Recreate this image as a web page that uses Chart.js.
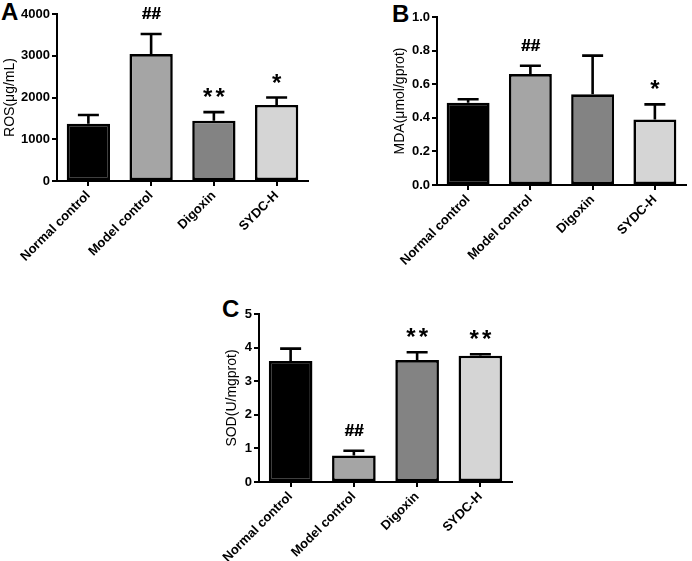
<!DOCTYPE html>
<html>
<head>
<meta charset="utf-8">
<script src="https://cdn.jsdelivr.net/npm/chart.js@4.4.1/dist/chart.umd.min.js"></script>
<style>
  body { margin: 0; background: #fff; width: 692px; height: 561px; position: relative; overflow: hidden; font-family: "Liberation Sans", Arial, sans-serif; }
  canvas { position: absolute; }
  .tag { position: absolute; font-weight: bold; font-size: 24px; line-height: 1; color: #000; }
</style>
</head>
<body>
<div class="tag" style="left:1px;top:0px">A</div>
<div class="tag" style="left:392px;top:2px">B</div>
<div class="tag" style="left:222px;top:297px">C</div>
<canvas id="chartA" width="340" height="290" style="left:0;top:0"></canvas>
<canvas id="chartB" width="352" height="290" style="left:340px;top:0"></canvas>
<canvas id="chartC" width="340" height="271" style="left:200px;top:290px"></canvas>
<script>
const groups = ["Normal control", "Model control", "Digoxin", "SYDC-H"];
const barColors = ["#000000", "#a5a5a5", "#838383", "#d5d5d5"];

// ROS
const rosMean = [1370, 3040, 1445, 1820];
const rosErr = [210, 480, 205, 180];
const rosMarks = ["", "##", "**", "*"];

// MDA
const mdaMean = [0.49, 0.66, 0.54, 0.39];
const mdaErr = [0.02, 0.05, 0.23, 0.09];
const mdaMarks = ["", "##", "", "*"];

// SOD
const sodMean = [3.6, 0.79, 3.63, 3.76];
const sodErr = [0.37, 0.14, 0.23, 0.04];
const sodMarks = ["", "##", "**", "**"];

const FONT = '"Liberation Sans", Arial, sans-serif';

// upper error bars plus the significance marks above them
function errorBars(means, errs, marks) {
  return {
    id: 'errorBars',
    afterDatasetsDraw(chart) {
      const ctx = chart.ctx;
      const y = chart.scales.y;
      const meta = chart.getDatasetMeta(0);
      ctx.save();
      ctx.strokeStyle = '#000';
      ctx.fillStyle = '#000';
      ctx.lineWidth = 2.6;
      meta.data.forEach((bar, i) => {
        const base = y.getPixelForValue(means[i]);
        const top = y.getPixelForValue(means[i] + errs[i]);
        ctx.beginPath();
        ctx.moveTo(bar.x, base);
        ctx.lineTo(bar.x, top);
        ctx.moveTo(bar.x - 10.5, top);
        ctx.lineTo(bar.x + 10.5, top);
        ctx.stroke();
        const m = marks[i];
        if (!m) return;
        const star = m[0] === '*';
        ctx.font = (star ? 'bold 24px ' : 'bold 17px ') + FONT;
        ctx.letterSpacing = star ? '3px' : '0px';
        ctx.textAlign = 'center';
        ctx.textBaseline = 'alphabetic';
        const mt = ctx.measureText(m);
        const dx = star ? 1.5 : 0;
        ctx.fillText(m, bar.x + dx, top - 15 - mt.actualBoundingBoxDescent);
        if (!star) {
          // a touch heavier, like the original
          ctx.fillText(m, bar.x + dx + 0.5, top - 15 - mt.actualBoundingBoxDescent);
        }
      });
      ctx.restore();
    }
  };
}

function panel(id, means, errs, marks, yMax, yStep, yTitle, digits, box) {
  new Chart(id, {
    type: 'bar',
    data: {
      labels: groups,
      datasets: [{
        data: means,
        backgroundColor: barColors,
        borderColor: '#000',
        borderWidth: 2.6,
        borderSkipped: false,
        categoryPercentage: 1,
        barPercentage: 0.69
      }]
    },
    options: {
      responsive: false,
      animation: false,
      devicePixelRatio: 1,
      layout: { padding: { left: box.padL, top: box.padT, right: box.padR, bottom: 0 } },
      plugins: { legend: { display: false }, tooltip: { enabled: false } },
      scales: {
        x: {
          grid: { display: true, drawOnChartArea: false, offset: false, color: '#000', lineWidth: 2, tickLength: 5 },
          border: { display: true, color: '#000', width: 2 },
          ticks: {
            color: '#000', font: { family: FONT, size: 13, weight: 'bold' },
            minRotation: 45, maxRotation: 45, autoSkip: false, padding: 2
          },
          afterFit(s) { s.height = box.xH; }
        },
        y: {
          min: 0, max: yMax,
          grid: { display: true, drawOnChartArea: false, color: '#000', lineWidth: 2, tickLength: 5 },
          border: { display: true, color: '#000', width: 2 },
          ticks: {
            stepSize: yStep, color: '#000', padding: 2,
            font: { family: FONT, size: 13, weight: 'bold' },
            callback: v => v.toFixed(digits)
          },
          title: {
            display: true, text: yTitle, color: '#000', padding: 0,
            font: { family: FONT, size: 14, weight: 'normal' }
          },
          afterFit(s) { s.width = box.yW; }
        }
      }
    },
    plugins: [errorBars(means, errs, marks)]
  });
}

panel('chartA', rosMean, rosErr, rosMarks, 4000, 1000, 'ROS(μg/mL)', 0,
  { padL: 2, padT: 14, padR: 32, yW: 55, xH: 109 });
panel('chartB', mdaMean, mdaErr, mdaMarks, 1.0, 0.2, 'MDA(μmol/gprot)', 1,
  { padL: 52, padT: 17, padR: 6, yW: 45, xH: 105 });
panel('chartC', sodMean, sodErr, sodMarks, 5, 1, 'SOD(U/mgprot)', 0,
  { padL: 24, padT: 24, padR: 28, yW: 35, xH: 79 });
</script>
</body>
</html>
